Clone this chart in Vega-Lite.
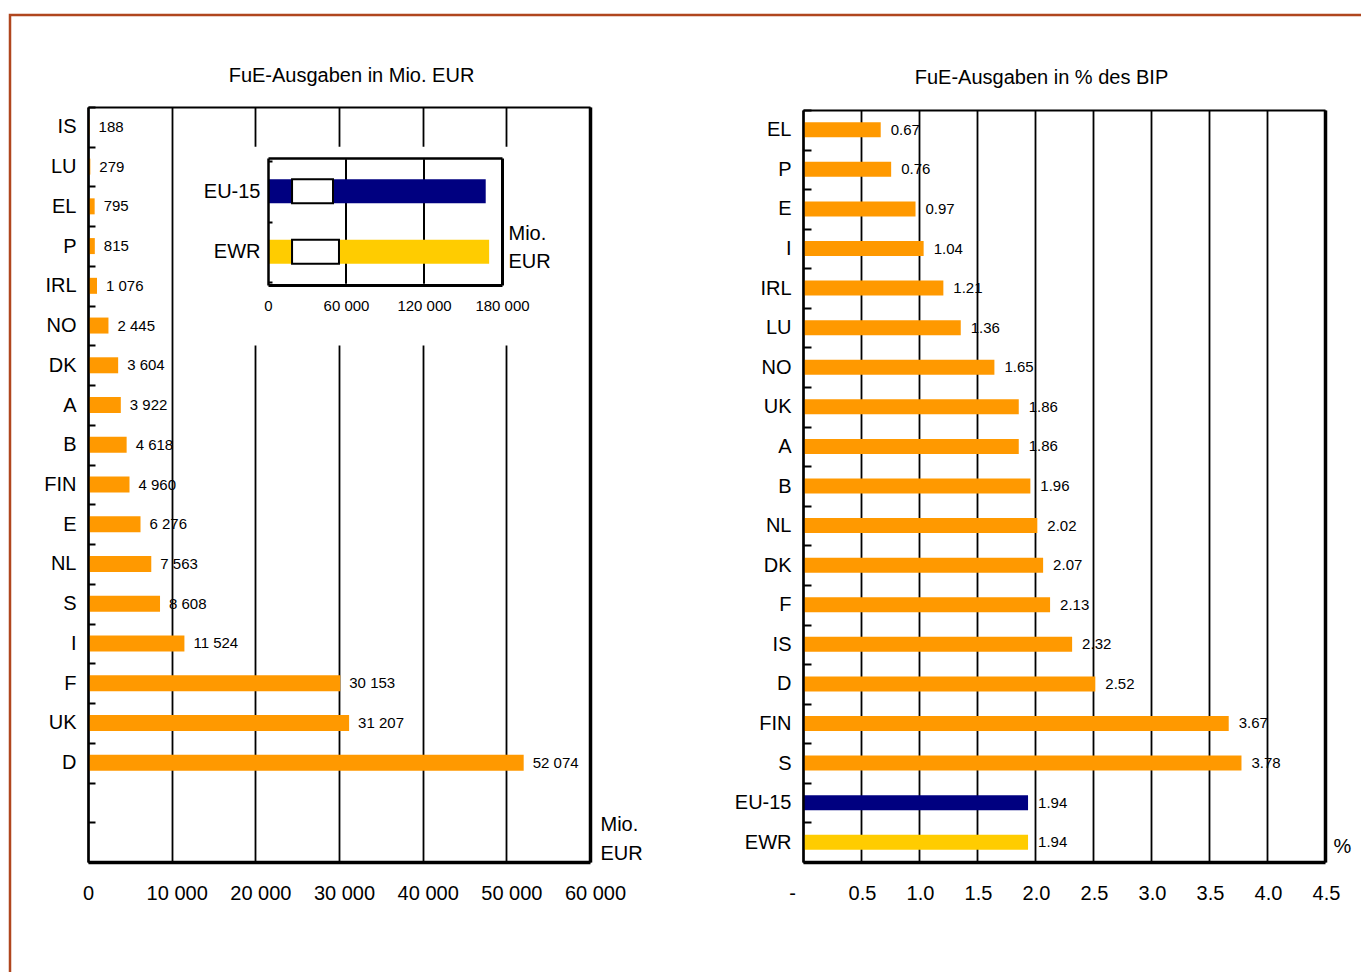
{
  "$schema": "https://vega.github.io/schema/vega-lite/v6.json",
  "width": 1361,
  "height": 972,
  "autosize": {"type": "none"},
  "padding": {"left": 10, "top": 15, "right": -10, "bottom": -15},
  "background": "white",
  "datasets": {
    "mio": [
      {"land": "IS", "mio": 188},
      {"land": "LU", "mio": 279},
      {"land": "EL", "mio": 795},
      {"land": "P", "mio": 815},
      {"land": "IRL", "mio": 1076},
      {"land": "NO", "mio": 2445},
      {"land": "DK", "mio": 3604},
      {"land": "A", "mio": 3922},
      {"land": "B", "mio": 4618},
      {"land": "FIN", "mio": 4960},
      {"land": "E", "mio": 6276},
      {"land": "NL", "mio": 7563},
      {"land": "S", "mio": 8608},
      {"land": "I", "mio": 11524},
      {"land": "F", "mio": 30153},
      {"land": "UK", "mio": 31207},
      {"land": "D", "mio": 52074}
    ],
    "insgesamt": [
      {"region": "EU-15", "mio": 167474, "bruch_von": 18500, "bruch_bis": 50000},
      {"region": "EWR", "mio": 170107, "bruch_von": 18500, "bruch_bis": 54600}
    ],
    "gitter_inset": [
      {"region": "EU-15", "gitter": 60000},
      {"region": "EWR", "gitter": 60000},
      {"region": "EU-15", "gitter": 120000},
      {"region": "EWR", "gitter": 120000}
    ],
    "bip": [
      {"land": "EL", "anteil": 0.67, "gruppe": "Land"},
      {"land": "P", "anteil": 0.76, "gruppe": "Land"},
      {"land": "E", "anteil": 0.97, "gruppe": "Land"},
      {"land": "I", "anteil": 1.04, "gruppe": "Land"},
      {"land": "IRL", "anteil": 1.21, "gruppe": "Land"},
      {"land": "LU", "anteil": 1.36, "gruppe": "Land"},
      {"land": "NO", "anteil": 1.65, "gruppe": "Land"},
      {"land": "UK", "anteil": 1.86, "gruppe": "Land"},
      {"land": "A", "anteil": 1.86, "gruppe": "Land"},
      {"land": "B", "anteil": 1.96, "gruppe": "Land"},
      {"land": "NL", "anteil": 2.02, "gruppe": "Land"},
      {"land": "DK", "anteil": 2.07, "gruppe": "Land"},
      {"land": "F", "anteil": 2.13, "gruppe": "Land"},
      {"land": "IS", "anteil": 2.32, "gruppe": "Land"},
      {"land": "D", "anteil": 2.52, "gruppe": "Land"},
      {"land": "FIN", "anteil": 3.67, "gruppe": "Land"},
      {"land": "S", "anteil": 3.78, "gruppe": "Land"},
      {"land": "EU-15", "anteil": 1.94, "gruppe": "EU-15"},
      {"land": "EWR", "anteil": 1.94, "gruppe": "EWR"}
    ]
  },
  "config": {
    "font": "Liberation Sans",
    "view": {"stroke": "#B0461E", "strokeWidth": 2.5},
    "axis": {
      "labelColor": "#000",
      "labelFontSize": 20,
      "labelFont": "Liberation Sans",
      "titleFont": "Liberation Sans",
      "titleColor": "#000",
      "titleFontSize": 20,
      "titleFontWeight": "normal",
      "domainColor": "#000",
      "tickColor": "#000",
      "gridColor": "#000",
      "gridOpacity": 1,
      "labelFlush": false,
      "labelOverlap": false
    },
    "text": {"color": "#000"},
    "locale": {"number": {"decimal": ".", "thousands": " ", "grouping": [3], "currency": ["", ""]}}
  },
  "layer": [
    {
      "data": {"name": "mio"},
      "layer": [
        {
          "mark": {"type": "bar", "color": "#FF9900", "size": 16},
          "encoding": {
            "x": {
              "field": "mio", "type": "quantitative",
              "scale": {"domain": [0, 60000], "range": [78, 580], "nice": false},
              "axis": {
                "orient": "top", "offset": -92,
                "values": [0, 10000, 20000, 30000, 40000, 50000, 60000],
                "grid": true, "gridWidth": 1.8,
                "domain": true, "domainWidth": 2,
                "ticks": false, "tickSize": 0, "labels": false,
                "title": "FuE-Ausgaben in Mio. EUR",
                "titleX": 341, "titleY": -26, "titleAlign": "center", "titleBaseline": "alphabetic",
                "zindex": 0
              }
            },
            "y": {
              "field": "land", "type": "nominal", "sort": null,
              "scale": {
                "domain": ["IS", "LU", "EL", "P", "IRL", "NO", "DK", "A", "B", "FIN", "E", "NL", "S", "I", "F", "UK", "D", "EU-15", "EWR"],
                "range": [92, 847], "paddingInner": 0, "paddingOuter": 0
              },
              "axis": {
                "orient": "left", "offset": -78,
                "domainWidth": 2.5,
                "ticks": true, "tickBand": "extent", "tickSize": -7, "tickWidth": 2,
                "labelPadding": 19,
                "labelExpr": "datum.value === 'EU-15' || datum.value === 'EWR' ? '' : datum.value",
                "title": null, "zindex": 1
              }
            }
          }
        },
        {
          "mark": {"type": "text", "align": "left", "baseline": "middle", "dx": 9, "fontSize": 15},
          "encoding": {
            "x": {
              "field": "mio", "type": "quantitative",
              "axis": {
                "orient": "bottom", "offset": -125,
                "values": [0, 10000, 20000, 30000, 40000, 50000, 60000],
                "grid": false, "domainWidth": 3.5,
                "ticks": false, "tickSize": 0, "labelPadding": 21,
                "format": ",d",
                "labelOffset": {"condition": {"test": "datum.value === 0", "value": 0}, "value": 5},
                "title": ["Mio.", "EUR"],
                "titleX": 590, "titleY": -32, "titleAlign": "left", "titleBaseline": "alphabetic", "titleLineHeight": 29,
                "zindex": 1
              }
            },
            "y": {
              "field": "land", "type": "nominal",
              "axis": {"orient": "right", "offset": -781, "domainWidth": 3.5, "ticks": false, "labels": false, "title": null, "zindex": 1}
            },
            "text": {"field": "mio", "type": "quantitative", "format": ",d"}
          }
        },
        {
          "data": {"values": [{}]},
          "mark": {"type": "rect", "color": "white"},
          "encoding": {
            "x": {"datum": 11500, "type": "quantitative", "axis": null},
            "x2": {"datum": 60000},
            "y": {"datum": "LU", "type": "nominal", "bandPosition": 0, "axis": null},
            "y2": {"datum": "DK", "bandPosition": 0}
          }
        }
      ],
      "resolve": {"axis": {"x": "independent", "y": "independent"}}
    },
    {
      "layer": [
        {
          "data": {"name": "gitter_inset"},
          "mark": {"type": "tick", "color": "#000", "thickness": 2, "size": 64, "opacity": 1},
          "encoding": {
            "x": {
              "field": "gitter", "type": "quantitative",
              "scale": {"domain": [0, 180000], "range": [258, 492], "nice": false},
              "axis": {"orient": "top", "offset": -143, "domainWidth": 2.5, "ticks": false, "tickSize": 0, "labels": false, "grid": false, "title": null, "zindex": 1}
            },
            "y": {
              "field": "region", "type": "nominal",
              "scale": {"domain": ["EU-15", "EWR"], "range": [143, 270], "paddingInner": 0, "paddingOuter": 0.05},
              "axis": {"orient": "left", "offset": -258, "domainWidth": 2.5, "ticks": true, "tickBand": "extent", "tickSize": -4, "tickWidth": 2, "labelPadding": 12, "title": null, "zindex": 1}
            }
          }
        },
        {
          "data": {"name": "insgesamt"},
          "mark": {"type": "bar", "size": 24},
          "encoding": {
            "x": {
              "field": "mio", "type": "quantitative",
              "axis": {
                "orient": "bottom", "offset": -702,
                "values": [0, 60000, 120000, 180000], "format": ",d",
                "labelFontSize": 15, "labelPadding": 13,
                "domainWidth": 3, "ticks": false, "tickSize": 0, "grid": false,
                "title": ["Mio.", "EUR"],
                "titleX": 498, "titleY": -46, "titleAlign": "left", "titleBaseline": "alphabetic", "titleLineHeight": 28,
                "zindex": 1
              }
            },
            "y": {
              "field": "region", "type": "nominal",
              "axis": {"orient": "right", "offset": -869, "labels": false, "ticks": false, "domainWidth": 3, "title": null, "zindex": 1}
            },
            "color": {
              "field": "region", "type": "nominal",
              "scale": {"domain": ["EU-15", "EWR"], "range": ["#000080", "#FFCC00"]},
              "legend": null
            }
          }
        },
        {
          "data": {"name": "insgesamt"},
          "mark": {"type": "bar", "size": 24, "fill": "white", "stroke": "#000", "strokeWidth": 2},
          "encoding": {
            "x": {"field": "bruch_von", "type": "quantitative", "axis": null},
            "x2": {"field": "bruch_bis"},
            "y": {"field": "region", "type": "nominal", "axis": null}
          }
        }
      ],
      "resolve": {"axis": {"x": "independent", "y": "independent"}}
    },
    {
      "data": {"name": "bip"},
      "layer": [
        {
          "mark": {"type": "bar", "size": 15},
          "encoding": {
            "x": {
              "field": "anteil", "type": "quantitative",
              "scale": {"domain": [0, 4.5], "range": [793, 1315], "nice": false},
              "axis": {
                "orient": "top", "offset": -95,
                "values": [0, 0.5, 1, 1.5, 2, 2.5, 3, 3.5, 4, 4.5],
                "grid": true, "gridWidth": 1.8,
                "domain": true, "domainWidth": 2,
                "ticks": false, "tickSize": 0, "labels": false,
                "title": "FuE-Ausgaben in % des BIP",
                "titleX": 1031, "titleY": -27, "titleAlign": "center", "titleBaseline": "alphabetic",
                "zindex": 0
              }
            },
            "y": {
              "field": "land", "type": "nominal", "sort": null,
              "scale": {
                "domain": ["EL", "P", "E", "I", "IRL", "LU", "NO", "UK", "A", "B", "NL", "DK", "F", "IS", "D", "FIN", "S", "EU-15", "EWR"],
                "range": [95, 847], "paddingInner": 0, "paddingOuter": 0
              },
              "axis": {
                "orient": "left", "offset": -793,
                "domainWidth": 2.5,
                "ticks": true, "tickBand": "extent", "tickSize": -8, "tickWidth": 2,
                "labelPadding": 20,
                "title": null, "zindex": 1
              }
            },
            "color": {
              "field": "gruppe", "type": "nominal",
              "scale": {"domain": ["Land", "EU-15", "EWR"], "range": ["#FF9900", "#000080", "#FFCC00"]},
              "legend": null
            }
          }
        },
        {
          "mark": {"type": "text", "align": "left", "baseline": "middle", "dx": 10, "fontSize": 15},
          "encoding": {
            "x": {
              "field": "anteil", "type": "quantitative",
              "axis": {
                "orient": "bottom", "offset": -125,
                "values": [0, 0.5, 1, 1.5, 2, 2.5, 3, 3.5, 4, 4.5],
                "grid": false, "domainWidth": 3.5,
                "ticks": false, "tickSize": 0, "labelPadding": 21,
                "format": ".1f",
                "labelExpr": "datum.value === 0 ? '-' : datum.label",
                "labelOffset": {"condition": {"test": "datum.value === 0", "value": -11}, "value": 1},
                "title": "%",
                "titleX": 1323, "titleY": -10, "titleAlign": "left", "titleBaseline": "alphabetic",
                "zindex": 1
              }
            },
            "y": {
              "field": "land", "type": "nominal",
              "axis": {"orient": "right", "offset": -46, "domainWidth": 3.5, "ticks": false, "labels": false, "title": null, "zindex": 1}
            },
            "text": {"field": "anteil", "type": "quantitative", "format": ".2f"}
          }
        }
      ],
      "resolve": {"axis": {"x": "independent", "y": "independent"}}
    }
  ],
  "resolve": {
    "scale": {"x": "independent", "y": "independent", "color": "independent"},
    "axis": {"x": "independent", "y": "independent"}
  }
}
